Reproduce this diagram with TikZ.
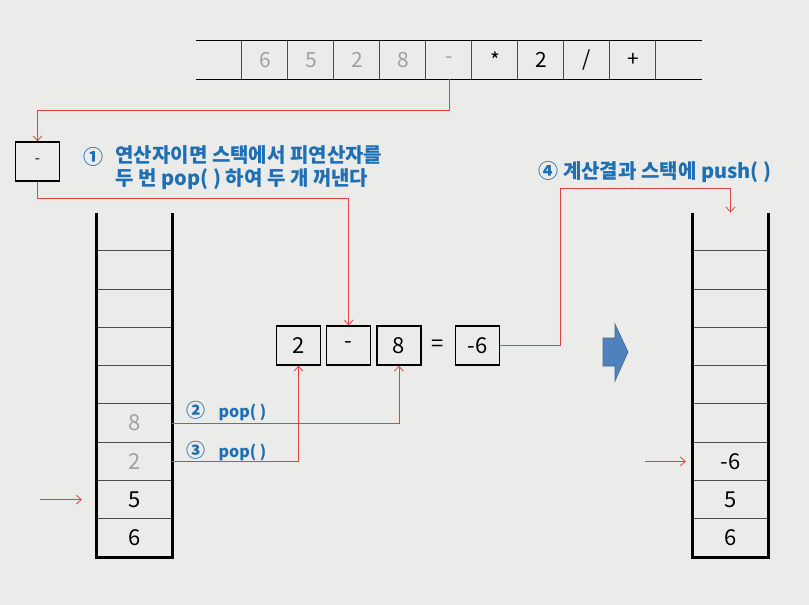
\documentclass[tikz,border=0pt]{standalone}
\usepackage{fontspec}
\setmainfont{Noto Sans CJK KR}
\usetikzlibrary{positioning,arrows.meta}
\definecolor{bgcol}{RGB}{235,235,233}
\definecolor{linered}{RGB}{222,68,68}
\definecolor{textblue}{RGB}{30,111,180}
\definecolor{arrowblue}{RGB}{79,129,189}
\definecolor{donegray}{RGB}{160,160,160}

\begin{document}
\begin{tikzpicture}[x=1pt,y=-1pt,>={Straight Barb[length=5pt,width=9pt]},
		cell/.style={minimum width=46pt,minimum height=38pt,inner sep=0pt,font=\fontsize{21}{21}\selectfont},
		slot/.style={minimum width=75pt,minimum height=38.25pt,inner sep=0pt,font=\fontsize{22}{22}\selectfont},
		box/.style={draw,line width=1.2pt,minimum width=44pt,minimum height=39pt,inner sep=0pt,font=\fontsize{22}{22}\selectfont},
		divider/.style={draw=black!70,line width=1pt},
		wall/.style={draw,line width=3pt},
		wire/.style={->,draw=linered,line width=0.8pt},
		note/.style={text=textblue,font=\fontsize{20}{23}\selectfont\bfseries,align=left,anchor=west},
		small note/.style={text=textblue,font=\fontsize{16}{16}\selectfont\bfseries,anchor=west}]
		\useasboundingbox (0,0) rectangle (809,605);
		\fill[bgcol] (0,0) rectangle (809,605);
		% 후위 표기식 배열
		\foreach \i/\v/\c in {0/{}/black,1/6/donegray,2/5/donegray,3/2/donegray,4/8/donegray,5/-/donegray,
			6/*/black,7/2/black,8/{/}/black,9/+/black,10/{}/black}
			\node[cell,text=\c] (tc\i) at ({196+46*(\i+0.5)},60) {\v};
		\draw[line width=1.2pt] (tc0.north west) -- (tc10.north east);
		\draw[line width=1.2pt] (tc0.south west) -- (tc10.south east);
		\foreach \i in {1,...,10}
			\draw[divider] (tc\i.north west) -- (tc\i.south west);
		% 왼쪽 스택
		\foreach \k/\v/\c in {1/6/black,2/5/black,3/2/donegray,4/8/donegray,5/{}/black,6/{}/black,7/{}/black,8/{}/black,9/{}/black}
			\node[slot,text=\c] (ls\k) at (134.5,{557-38.25*(\k-0.5)}) {\v};
		\foreach \k in {1,...,8}
			\draw[divider] (ls\k.north west) -- (ls\k.north east);
		\draw[wall] (ls9.north west) -- (ls1.south west) -- (ls1.south east) -- (ls9.north east);
		% 오른쪽 스택
		\foreach \k/\v in {1/6,2/5,3/-6,4/{},5/{},6/{},7/{},8/{},9/{}}
			\node[slot] (rs\k) at (730.5,{557-38.25*(\k-0.5)}) {\v};
		\foreach \k in {1,...,8}
			\draw[divider] (rs\k.north west) -- (rs\k.north east);
		\draw[wall] (rs9.north west) -- (rs1.south west) -- (rs1.south east) -- (rs9.north east);
		% 연산
		\node[box,font=\fontsize{15}{15}\selectfont] (opbox) at (37.5,161.5) {-};
		\node[box] (b2) at (298.5,345.5) {2};
		\node[box,right=5pt of b2] (bop) {-};
		\node[box,right=5pt of bop] (b8) {8};
		\node[right=8pt of b8,inner sep=2pt,font=\fontsize{22}{22}\selectfont] (eq) {=};
		\node[box,right=9pt of eq] (res) {-6};
		\fill[arrowblue,draw=arrowblue!80!black,line width=0.6pt] (603,338) -- (615,338) -- (615,324) -- (628,352)
			-- (615,381) -- (615,366) -- (603,366) -- cycle;
		% 설명
		\node[note] (n1) at (80,157) {①};
		\node[note] (t1) at (112,168) {연산자이면 스택에서 피연산자를\\두 번 pop( ) 하여 두 개 꺼낸다};
		\node[note] (t4) at (535,172) {④ 계산결과 스택에 push( )};
		\node[small note] (p2) at (183,411) {{\fontsize{19}{19}\selectfont ②}\hspace{13pt}pop( )};
		\node[small note] (p3) at (183,451) {{\fontsize{19}{19}\selectfont ③}\hspace{13pt}pop( )};
		% 연결선
		\coordinate (bend) at (560,188);
		\coordinate[left=57pt of ls2.west] (lin);
		\coordinate[left=48pt of rs3.west] (rin);
		\draw[wire] (tc5.south) -- ++(0,31) -| (opbox.north);
		\draw[wire] (opbox.south) -- ++(0,17) -| (bop.north);
		\draw[wire] (ls4.east) -| (b8.south);
		\draw[wire] (ls3.east) -| (b2.south);
		\draw[wire] (res.east) -| (bend) -| (rs9.north);
		\draw[wire,shorten >=15pt] (lin) -- (ls2.west);
		\draw[wire,shorten >=7pt] (rin) -- (rs3.west);
\end{tikzpicture}
\end{document}
